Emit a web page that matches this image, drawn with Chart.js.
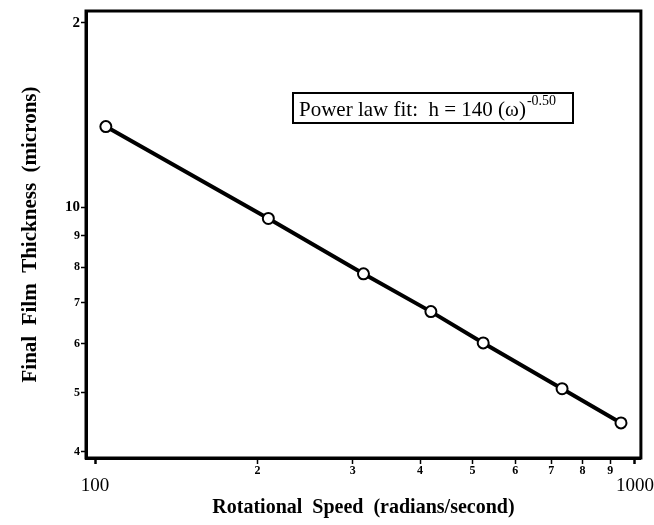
<!DOCTYPE html>
<html>
<head>
<meta charset="utf-8">
<script src="https://cdn.jsdelivr.net/npm/chart.js@4.4.1/dist/chart.umd.min.js"></script>
<style>
  html, body { margin: 0; padding: 0; background: #fff; }
  #wrap { width: 654px; height: 525px; }
</style>
</head>
<body>
<div id="wrap"><canvas id="myChart"></canvas></div>
<script>
const ctx = document.getElementById('myChart')

// rotational speed (rad/s) and final film thickness (microns)
const velocidades = [104.7, 209.4, 314.2, 418.9, 523.6, 733.0, 942.5]
const espesores = [13.55, 9.6, 7.8, 6.77, 6.02, 5.07, 4.46]
const ticksX = [100, 200, 300, 400, 500, 600, 700, 800, 900, 1000]
const ticksY = [4, 5, 6, 7, 8, 9, 10, 20]

const serif = "'Liberation Serif', 'Times New Roman', serif"

const marco = {
  id: 'marco',
  afterDraw(chart) {
    const c = chart.ctx
    const a = chart.chartArea
    c.save()
    c.strokeStyle = '#000'
    c.lineWidth = 3
    c.strokeRect(a.left, a.top, a.right - a.left, a.bottom - a.top)

    // fit annotation box
    const bx = 293, by = 93, bw = 280, bh = 30
    c.fillStyle = '#fff'
    c.fillRect(bx, by, bw, bh)
    c.lineWidth = 2
    c.strokeRect(bx, by, bw, bh)
    c.fillStyle = '#000'
    c.textBaseline = 'alphabetic'
    c.textAlign = 'left'
    c.font = '21px ' + serif
    const txt = 'Power law fit:  h = 140 (\u03c9)'
    c.fillText(txt, bx + 6, by + 23)
    const w = c.measureText(txt).width
    c.font = '14px ' + serif
    c.fillText('-0.50', bx + 6 + w + 1, by + 12)
    c.restore()
  }
}

const grafico = new Chart(ctx, {
  type: 'line',
  data: {
    datasets: [{
      label: 'Thickness',
      data: velocidades.map((v, i) => ({ x: v, y: espesores[i] })),
      borderColor: '#000',
      borderWidth: 4,
      pointRadius: 5.5,
      pointBorderWidth: 2,
      pointBackgroundColor: '#fff',
      pointBorderColor: '#000',
      tension: 0
    }]
  },
  options: {
    responsive: true,
    maintainAspectRatio: false,
    animation: false,
    layout: { padding: { left: 0, right: 11, top: 11, bottom: 0 } },
    plugins: { legend: { display: false }, tooltip: { enabled: false } },
    scales: {
      x: {
        type: 'logarithmic',
        min: 96.2,
        max: 1026,
        afterBuildTicks: (s) => { s.ticks = ticksX.map(v => ({ value: v })) },
        afterFit: (s) => { s.height = 67 },
        border: { display: true, color: '#000', width: 3 },
        grid: {
          drawOnChartArea: false,
          drawTicks: true,
          tickLength: 6,
          tickColor: '#000',
          tickWidth: (c) => (c.tick && (c.tick.value === 100 || c.tick.value === 1000)) ? 2.5 : 1.5
        },
        ticks: {
          autoSkip: false,
          maxRotation: 0,
          padding: 0,
          color: '#000',
          callback: (v) => (v === 100 || v === 1000) ? ['', String(v)] : String(v / 100),
          font: (c) => (c.tick && (c.tick.value === 100 || c.tick.value === 1000))
            ? { family: serif, size: 19, weight: 'normal', lineHeight: 0.77 }
            : { family: serif, size: 12, weight: 'bold', lineHeight: 1.2 }
        },
        title: {
          display: true,
          text: 'Rotational  Speed  (radians/second)',
          color: '#000',
          font: { family: serif, size: 20, weight: 'bold' },
          padding: { top: 0, bottom: 5 }
        }
      },
      y: {
        type: 'logarithmic',
        min: 3.91,
        max: 20.9,
        afterBuildTicks: (s) => { s.ticks = ticksY.map(v => ({ value: v })) },
        afterFit: (s) => { s.width = 86 },
        border: { display: true, color: '#000', width: 3 },
        grid: {
          drawOnChartArea: false,
          drawTicks: true,
          tickLength: 5,
          tickColor: '#000',
          tickWidth: 1.5
        },
        ticks: {
          autoSkip: false,
          padding: 1,
          color: '#000',
          callback: (v) => v === 20 ? '2' : String(v),
          font: (c) => (c.tick && (c.tick.value === 10 || c.tick.value === 20))
            ? { family: serif, size: 15, weight: 'bold' }
            : { family: serif, size: 12, weight: 'bold' }
        },
        title: {
          display: true,
          text: 'Final  Film  Thickness  (microns)',
          color: '#000',
          font: { family: serif, size: 21, weight: 'bold' },
          padding: { top: 18, bottom: 0 }
        }
      }
    }
  },
  plugins: [marco]
})
</script>
</body>
</html>
